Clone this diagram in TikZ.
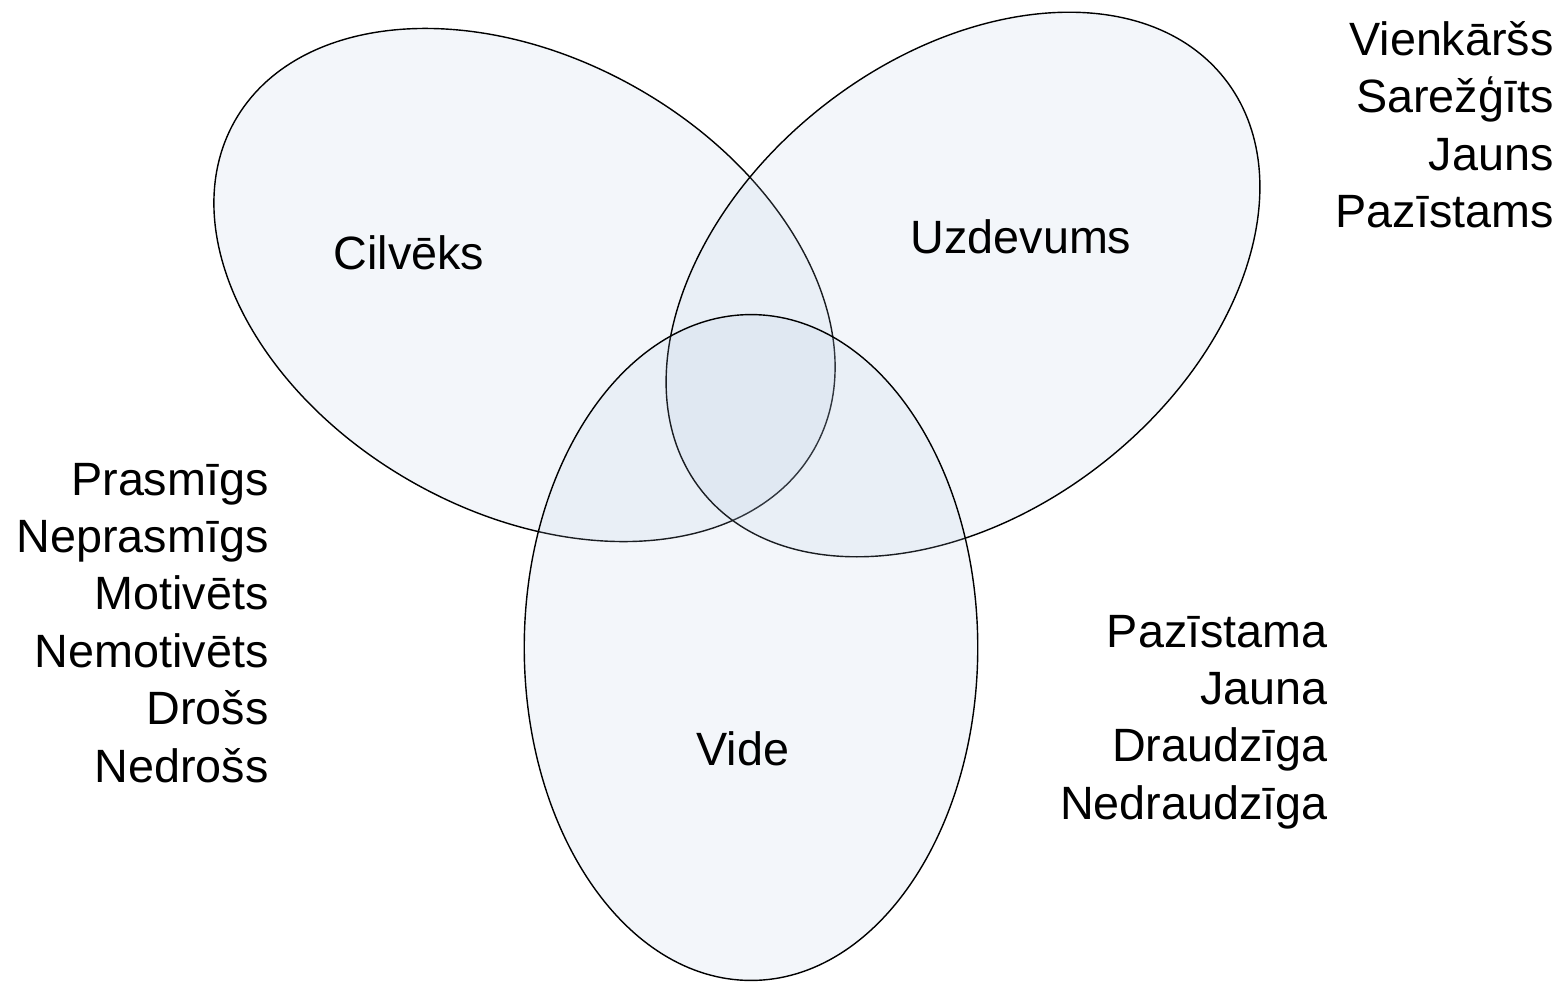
\documentclass[tikz,border=0pt]{standalone}
\usepackage{fontspec}
\setmainfont{Liberation Sans}
\usetikzlibrary{shapes.geometric}
\definecolor{vennfill}{RGB}{175,195,222}
\tikzset{
  venn/.style={ellipse, draw=black, line width=0.8pt, fill=vennfill, fill opacity=0.15,
    inner sep=0pt, outer sep=0pt, minimum width=13.32cm, minimum height=9.072cm},
  lbl/.style={font=\fontsize{26.6}{32}\selectfont, inner sep=0pt, text=black},
}
\begin{document}
\begin{tikzpicture}[x=0.02cm,y=-0.02cm]
\useasboundingbox (0,0) rectangle (1562,981);
\node[venn, rotate=-29.5] (cilveks) at (524.5,285) {};
\node[venn, rotate=38.2] (uzdevums) at (963,284.5) {};
\node[venn, rotate=90] (vide) at (751,647.5) {};
\node[lbl, anchor=base] (tcilveks) at (409,269) {Cilvēks};
\node[lbl, anchor=base] (tuzdevums) at (1021,253) {Uzdevums};
\node[lbl, anchor=base] (tvide) at (743,765) {Vide};
\foreach \t [count=\i from 0] in {Prasmīgs,Neprasmīgs,Motivēts,Nemotivēts,Drošs,Nedrošs}
  \node[lbl, anchor=base east] (left\i) at (269,{495+57.4*\i}) {\t};
\foreach \t [count=\i from 0] in {Pazīstama,Jauna,Draudzīga,Nedraudzīga}
  \node[lbl, anchor=base east] (right\i) at (1328,{647+57.4*\i}) {\t};
\foreach \t [count=\i from 0] in {Vienkāršs,Sarežģīts,Jauns,Pazīstams}
  \node[lbl, anchor=base east] (top\i) at (1554,{55.5+57.3*\i}) {\t};
\end{tikzpicture}
\end{document}
